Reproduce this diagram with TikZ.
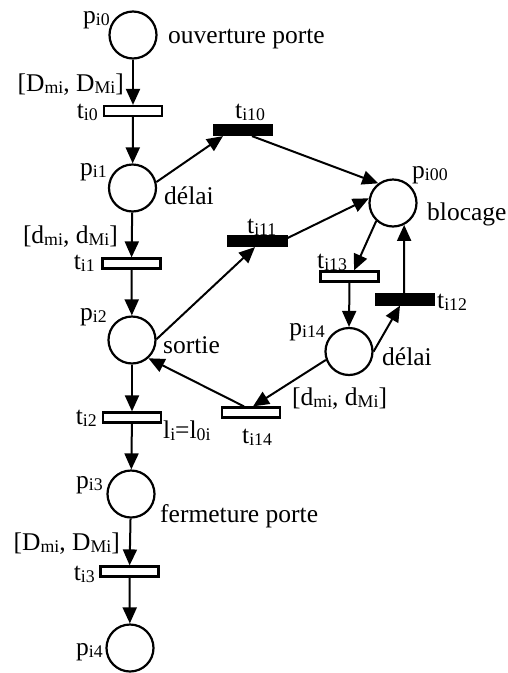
\documentclass[tikz,border=0pt]{standalone}
\usepackage{fontspec}
\setmainfont{Liberation Serif}
\usetikzlibrary{arrows.meta,calc}
\newcommand{\sbs}[1]{\raisebox{-2.5pt}{\fontsize{17.8}{20}\selectfont #1}}
\begin{document}
\begin{tikzpicture}[x=1pt,y=-1pt,
  place/.style={circle, draw, line width=2.2pt, minimum size=47pt, inner sep=0pt},
  trans/.style={rectangle, draw, line width=2.2pt, minimum width=58pt, minimum height=10pt, inner sep=0pt, fill=white},
  btrans/.style={trans, fill=black},
  arc/.style={line width=2pt, -{Triangle[length=16pt,width=14pt]}},
  lab/.style={inner sep=0pt, font=\fontsize{25.5}{30}\selectfont}]
\useasboundingbox (0,0) rectangle (508,673);

% label partly hidden under t_i11
\node[lab, anchor=base west] (lt11) at (247,233) {t\sbs{i11}};

% places
\node[place] (pi0) at (133,35) {};
\node[place] (pi1) at (132.5,188) {};
\node[place] (pi2) at (132,340) {};
\node[place] (pi3) at (131,494) {};
\node[place] (pi4) at (130,648) {};
\node[place] (pi00) at (393,203) {};
\node[place] (pi14) at (349,351.5) {};

% transitions
\node[trans] (ti0) at (133,111) {};
\node[trans] (ti1) at (131.5,263.5) {};
\node[trans] (ti2) at (132,417.5) {};
\node[trans] (ti3) at (129.5,571.5) {};
\node[btrans] (ti10) at (243,130) {};
\node[btrans] (ti11) at (257.5,241) {};
\node[trans] (ti13) at (349.5,276.5) {};
\node[btrans] (ti12) at (405,299.5) {};
\node[trans] (ti14) at (251,412.5) {};

% arcs
\draw[arc] (pi0) -- (ti0);
\draw[arc] (ti0) -- (pi1);
\draw[arc] (pi1) -- (ti1);
\draw[arc] (ti1) -- (pi2);
\draw[arc] (pi2) -- (ti2);
\draw[arc] (ti2) -- (pi3);
\draw[arc] (pi3) -- (ti3);
\draw[arc] (ti3) -- (pi4);
\draw[arc] (pi1.14) -- ($(ti10.south)+(-20,0)$);
\draw[arc] ($(ti10.south)+(9,0)$) -- (pi00.127);
\draw[arc] (pi2.2) -- ($(ti11.south)+(-2.5,0)$);
\draw[arc] ($(ti11.east)+(0,-3)$) -- (pi00.169);
\draw[arc] (pi00.227) -- ($(ti13.north)+(4.5,0)$);
\draw[arc] (ti13.south) -- (pi14.north);
\draw[arc] (pi14.0) -- ($(ti12.south)+(-5,0)$);
\draw[arc] ($(ti12.north)+(-1,0)$) -- (pi00.-63);
\draw[arc] (pi14.200) -- ($(ti14.north)+(2,0)$);
\draw[arc] ($(ti14.north)+(-7,0)$) -- (pi2.-48);

% labels
\node[lab, anchor=base east] (lp0) at (110,23) {p\sbs{i0}};
\node[lab, anchor=base west] (louv) at (168,43) {ouverture porte};
\node[lab, anchor=base east] (lD0) at (124,91) {[D\sbs{mi}, D\sbs{Mi}]};
\node[lab, anchor=base east] (lt0) at (98,118) {t\sbs{i0}};
\node[lab, anchor=base east] (lp1) at (107,175) {p\sbs{i1}};
\node[lab, anchor=base west] (ldel1) at (164,204) {délai};
\node[lab, anchor=base east] (ld1) at (118,243) {[d\sbs{mi}, d\sbs{Mi}]};
\node[lab, anchor=base east] (lt1) at (95,269) {t\sbs{i1}};
\node[lab, anchor=base east] (lp2) at (107,320) {p\sbs{i2}};
\node[lab, anchor=base west] (lsort) at (163,353) {sortie};
\node[lab, anchor=base east] (lt2) at (97,424) {t\sbs{i2}};
\node[lab, anchor=base west] (lli) at (163,438) {l\sbs{i}=l\sbs{0i}};
\node[lab, anchor=base east] (lp3) at (103,488) {p\sbs{i3}};
\node[lab, anchor=base west] (lferm) at (160,522) {fermeture porte};
\node[lab, anchor=base east] (lD3) at (120,550) {[D\sbs{mi}, D\sbs{Mi}]};
\node[lab, anchor=base east] (lt3) at (95,580) {t\sbs{i3}};
\node[lab, anchor=base east] (lp4) at (103,655) {p\sbs{i4}};
\node[lab, anchor=base west] (lt10) at (235,118) {t\sbs{i10}};
\node[lab, anchor=base west] (lp00) at (412,178) {p\sbs{i00}};
\node[lab, anchor=base west] (lbloc) at (427,220) {blocage};
\node[lab, anchor=base west] (lt13) at (317,268) {t\sbs{i13}};
\node[lab, anchor=base west] (lt12) at (437,308) {t\sbs{i12}};
\node[lab, anchor=base east] (lp14) at (325,335) {p\sbs{i14}};
\node[lab, anchor=base west] (ldel2) at (382,365) {délai};
\node[lab, anchor=base west] (ld2) at (292,405) {[d\sbs{mi}, d\sbs{Mi}]};
\node[lab, anchor=base west] (lt14) at (242,443) {t\sbs{i14}};
\end{tikzpicture}
\end{document}
